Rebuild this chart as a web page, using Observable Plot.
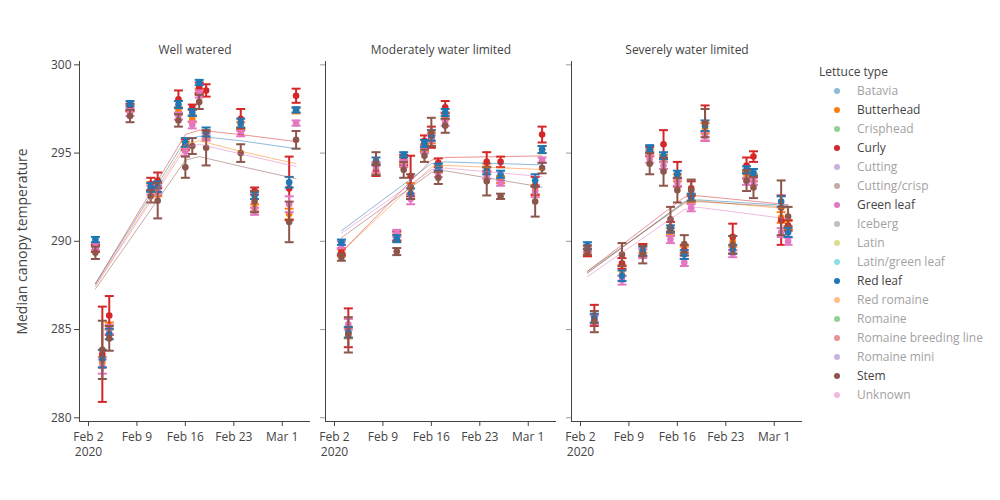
<!DOCTYPE html>
<html><head><meta charset="utf-8">
<script src="https://cdn.jsdelivr.net/npm/d3@7"></script>
<script src="https://cdn.jsdelivr.net/npm/@observablehq/plot@0.6"></script>
<style>
body{margin:0;background:#fff;font-family:"Open Sans",sans-serif;}
#wrap{position:relative;width:1000px;height:500px;overflow:hidden;background:#fff;}
.panel{position:absolute;top:0;}
#legend{position:absolute;left:819px;top:62px;font-size:12px;color:#444;font-family:"Open Sans",sans-serif;}
#legend .row{height:19px;line-height:19px;position:relative;white-space:nowrap;}
#legend .dot{position:absolute;left:14.5px;top:6.5px;width:6px;height:6px;border-radius:50%;}
#legend .lab{position:absolute;left:38px;top:0;}
</style></head><body><div id="wrap"><div id="legend"></div></div>
<script>
// ---------- data ----------
const panelTitles = ["Well watered", "Moderately water limited", "Severely water limited"];
const types = ["Butterhead", "Curly", "Green leaf", "Red leaf", "Stem"];
const typeColors = ["#ff7f0e", "#d62728", "#e377c2", "#1f77b4", "#8c564b"];

const legendTitle = "Lettuce type";
const legendNames = ["Batavia","Butterhead","Crisphead","Curly","Cutting","Cutting/crisp","Green leaf","Iceberg","Latin","Latin/green leaf","Red leaf","Red romaine","Romaine","Romaine breeding line","Romaine mini","Stem","Unknown"];
const legendColors = ["#1f77b4","#ff7f0e","#2ca02c","#d62728","#9467bd","#8c564b","#e377c2","#7f7f7f","#bcbd22","#17becf","#1f77b4","#ff7f0e","#2ca02c","#d62728","#9467bd","#8c564b","#e377c2"];
const legendShown = [false,true,false,true,false,false,true,false,false,false,true,false,false,false,false,true,false];

const yLabel = "Median canopy temperature";
const yTicks = [280, 285, 290, 295, 300];
const xTickDates = ["2020-02-02","2020-02-09","2020-02-16","2020-02-23","2020-03-01"];
const xTickLabels = ["Feb 2\n2020","Feb 9","Feb 16","Feb 23","Mar 1"];

// Well watered
const wwDates = ["2020-02-03","2020-02-04","2020-02-05","2020-02-08","2020-02-11","2020-02-12","2020-02-15","2020-02-16","2020-02-17","2020-02-18","2020-02-19","2020-02-24","2020-02-26","2020-03-02","2020-03-03"];
const wwValues = [
  [289.6,283.15,285.2,297.55,293.1,292.8,297.4,295.4,296.95,298.5,296.0,296.55,291.9,291.55,297.4],
  [289.6,283.6,285.8,297.6,293.25,293.45,298.05,295.5,297.6,298.7,298.55,296.95,292.85,293.0,298.25],
  [289.7,282.9,285.0,297.3,292.9,292.9,297.1,295.1,296.6,298.35,295.9,296.1,291.7,292.1,296.7],
  [290.1,283.35,284.75,297.8,293.05,293.1,297.75,295.6,297.3,299.0,296.2,296.7,292.6,293.35,297.45],
  [289.35,283.85,284.5,297.1,292.55,292.3,296.85,294.2,295.4,297.9,295.3,295.0,292.25,291.1,295.75]
];
const wwErrors = [
  [0.2,0.3,0.2,0.2,0.25,0.25,0.2,0.25,0.2,0.15,0.2,0.2,0.2,0.3,0.15],
  [0.2,2.7,1.1,0.2,0.35,0.45,0.5,0.3,0.15,0.3,0.35,0.55,0.2,1.8,0.4],
  [0.2,0.4,0.25,0.2,0.25,0.25,0.2,0.25,0.2,0.2,0.2,0.15,0.2,0.45,0.15],
  [0.15,0.5,0.3,0.15,0.25,0.3,0.2,0.25,0.2,0.15,0.25,0.25,0.2,0.3,0.15],
  [0.35,1.65,0.7,0.35,0.35,1.0,0.35,0.6,0.45,0.4,1.0,0.5,0.6,1.15,0.5]
];
const wwTrendDates = ["2020-02-03","2020-02-16","2020-02-18","2020-02-24","2020-03-03"];
const wwTrend = [
  [287.5,295.5,295.7,295.1,294.4],
  [287.6,296.05,296.3,296.05,295.65],
  [287.45,295.3,295.5,294.95,294.24],
  [287.6,295.75,295.95,295.7,295.25],
  [287.3,294.6,294.8,294.25,293.55]
];

// Moderately water limited
const mwDates = ["2020-02-03","2020-02-04","2020-02-08","2020-02-11","2020-02-12","2020-02-13","2020-02-15","2020-02-16","2020-02-17","2020-02-18","2020-02-24","2020-02-26","2020-03-02","2020-03-03"];
const mwValues = [
  [289.35,284.8,294.1,290.2,294.6,293.0,295.3,295.85,294.1,297.1,294.2,293.5,292.9,295.2],
  [289.4,285.1,294.0,290.3,294.6,293.7,295.7,295.9,294.45,297.6,294.5,294.5,293.15,296.05],
  [289.8,285.3,294.2,290.45,294.4,292.4,295.2,295.7,293.85,296.75,293.75,293.3,292.8,294.6],
  [289.95,284.85,294.55,290.15,294.9,292.7,295.55,296.0,294.2,297.3,294.0,293.8,293.45,295.2],
  [289.1,284.7,294.4,289.42,294.05,293.1,294.85,296.2,293.6,296.55,293.4,292.55,292.25,294.15]
];
const mwErrors = [
  [0.2,0.3,0.3,0.2,0.2,0.3,0.2,0.3,0.2,0.2,0.2,0.2,0.3,0.2],
  [0.2,1.1,0.3,0.25,0.3,1.15,0.3,0.6,0.25,0.35,0.55,0.3,0.5,0.45],
  [0.2,0.3,0.3,0.2,0.2,0.3,0.2,0.3,0.2,0.2,0.2,0.15,0.3,0.15],
  [0.15,0.3,0.2,0.2,0.15,0.3,0.2,0.3,0.2,0.2,0.2,0.2,0.35,0.2],
  [0.2,1.0,0.65,0.2,0.45,0.7,0.35,0.8,0.35,0.4,0.8,0.15,0.85,0.3]
];
const mwTrendDates = ["2020-02-03","2020-02-16","2020-02-18","2020-03-03"];
const mwTrend = [
  [289.4,294.2,294.3,294.07],
  [289.38,294.6,294.75,294.84],
  [290.46,294.05,294.15,293.67],
  [290.6,294.4,294.5,294.33],
  [290.2,293.9,294.0,293.07]
];

// Severely water limited
const swDates = ["2020-02-03","2020-02-04","2020-02-08","2020-02-11","2020-02-12","2020-02-14","2020-02-15","2020-02-16","2020-02-17","2020-02-18","2020-02-20","2020-02-24","2020-02-26","2020-02-27","2020-03-02","2020-03-03"];
const swValues = [
  [289.4,285.6,288.35,289.6,295.0,294.7,290.55,293.6,289.45,292.4,296.4,290.0,293.75,293.6,291.35,290.9],
  [289.35,285.8,288.75,289.5,295.1,295.5,290.8,293.8,289.5,293.0,296.7,290.25,294.3,294.8,291.2,290.9],
  [289.6,285.55,287.8,289.3,294.65,294.3,290.1,293.35,288.8,291.9,295.95,289.3,293.4,293.4,290.5,290.0],
  [289.75,285.65,288.05,289.45,295.25,294.85,290.7,293.8,289.25,292.5,296.55,289.55,294.05,293.9,292.25,290.5],
  [289.5,285.45,289.25,289.25,294.4,293.95,291.25,292.9,289.85,292.9,296.7,289.8,293.45,293.05,291.9,291.4]
];
const swErrors = [
  [0.2,0.25,0.3,0.25,0.2,0.2,0.2,0.2,0.25,0.2,0.3,0.3,0.2,0.2,0.3,0.25],
  [0.2,0.6,0.3,0.35,0.25,0.8,0.3,0.7,0.3,0.4,1.0,0.75,0.45,0.3,1.4,0.3],
  [0.2,0.25,0.25,0.25,0.2,0.2,0.2,0.2,0.2,0.2,0.25,0.2,0.2,0.2,0.25,0.2],
  [0.2,0.25,0.3,0.25,0.2,0.2,0.2,0.2,0.25,0.2,0.3,0.25,0.2,0.2,0.3,0.25],
  [0.25,0.6,0.65,0.5,0.6,0.8,0.7,0.7,0.5,0.6,0.8,0.5,0.6,0.6,1.55,0.55]
];
const swTrendDates = ["2020-02-03","2020-02-17","2020-02-19","2020-03-03"];
const swTrend = [
  [288.2,292.2,292.3,291.84],
  [288.3,292.5,292.58,292.08],
  [288.0,291.8,291.93,291.27],
  [288.2,292.25,292.35,292.03],
  [288.3,292.15,292.25,291.95]
];

// ---------- drawing ----------
const parse = d3.utcParse("%Y-%m-%d");
const xDomain = [new Date(Date.UTC(2020,0,31,16,48)), new Date(Date.UTC(2020,2,5,2,0))];
const yDomain = [279.79, 300.19];
const tickDates = xTickDates.map(parse);
const tickLabelOf = new Map(tickDates.map((d,i)=>[+d, xTickLabels[i]]));

const capSymbol = {draw(ctx, size){ const r = Math.sqrt(size/Math.PI); ctx.moveTo(-r,0); ctx.lineTo(r,0); }};

const panelSpecs = [
  {dates: wwDates, values: wwValues, errors: wwErrors, tDates: wwTrendDates, trend: wwTrend, left: 79},
  {dates: mwDates, values: mwValues, errors: mwErrors, tDates: mwTrendDates, trend: mwTrend, left: 325},
  {dates: swDates, values: swValues, errors: swErrors, tDates: swTrendDates, trend: swTrend, left: 571}
];

const wrap = document.getElementById("wrap");

panelSpecs.forEach((p, pi) => {
  const marks = [];
  marks.push(Plot.ruleX([xDomain[0]], {stroke: "#444", strokeWidth: 1}));
  marks.push(Plot.ruleY([yDomain[0]], {stroke: "#444", strokeWidth: 1}));
  marks.push(Plot.axisY({ticks: yTicks, tickSize: 5, tickPadding: 3, label: null,
    tickFormat: pi === 0 ? (d => String(d)) : (() => ""), color: "#444", stroke: pi === 0 ? "#444" : "#999", fontSize: 12}));
  marks.push(Plot.axisX({ticks: tickDates, tickSize: 5, tickPadding: 4, label: null,
    tickFormat: d => tickLabelOf.get(+d), color: "#444", fontSize: 12, lineHeight: 1.25}));
  types.forEach((t, ti) => {
    const rows = p.dates.map((d, di) => ({date: parse(d), v: p.values[ti][di], e: p.errors[ti][di]}));
    const c = typeColors[ti];
    marks.push(Plot.ruleX(rows, {x: "date", y1: d => d.v - d.e, y2: d => d.v + d.e, stroke: c, strokeWidth: 2}));
    marks.push(Plot.dot(rows, {x: "date", y: d => d.v - d.e, r: 4.5, symbol: capSymbol, stroke: c, strokeWidth: 2, fill: "none"}));
    marks.push(Plot.dot(rows, {x: "date", y: d => d.v + d.e, r: 4.5, symbol: capSymbol, stroke: c, strokeWidth: 2, fill: "none"}));
    marks.push(Plot.dot(rows, {x: "date", y: "v", r: 3.3, fill: c, stroke: "none"}));
  });
  types.forEach((t, ti) => {
    const trows = p.tDates.map((d, di) => ({date: parse(d), v: p.trend[ti][di]}));
    marks.push(Plot.line(trows, {x: "date", y: "v", stroke: typeColors[ti], strokeWidth: 1, strokeOpacity: 0.5, curve: "linear"}));
  });
  marks.push(Plot.text([panelTitles[pi]], {frameAnchor: "top", dy: -11, lineAnchor: "middle", textAnchor: "middle", fontSize: 12, fill: "#444"}));
  if (pi === 0) {
    marks.push(Plot.text([yLabel], {frameAnchor: "left", dx: -57, rotate: -90, textAnchor: "middle", lineAnchor: "middle", fontSize: 14, fill: "#444"}));
  }
  const svg = Plot.plot({
    width: 320, height: 470,
    marginLeft: 79, marginRight: 10, marginTop: 61, marginBottom: 49,
    x: {type: "utc", domain: xDomain},
    y: {domain: yDomain},
    style: {fontFamily: "Open Sans", fontSize: "12px", color: "#444", background: "transparent", overflow: "visible"},
    marks
  });
  svg.classList.add("panel");
  svg.style.position = "absolute";
  svg.style.left = (p.left - 79) + "px";
  svg.style.top = "0px";
  wrap.appendChild(svg);
});

// legend
const legend = document.getElementById("legend");
const title = document.createElement("div");
title.className = "row";
title.textContent = legendTitle;
legend.appendChild(title);
legendNames.forEach((n, i) => {
  const row = document.createElement("div");
  row.className = "row";
  if (!legendShown[i]) row.style.opacity = 0.5;
  const dot = document.createElement("span");
  dot.className = "dot";
  dot.style.background = legendColors[i];
  const lab = document.createElement("span");
  lab.className = "lab";
  lab.textContent = n;
  row.appendChild(dot); row.appendChild(lab);
  legend.appendChild(row);
});
wrap.appendChild(legend);
</script></body></html>
